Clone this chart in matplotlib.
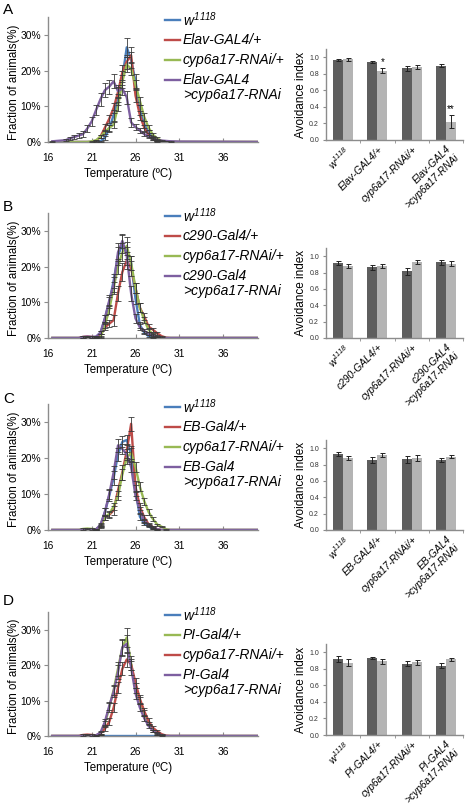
import numpy as np
import matplotlib
matplotlib.use("Agg")
import matplotlib.pyplot as plt
from matplotlib.ticker import PercentFormatter, FixedLocator
from matplotlib.lines import Line2D

plt.rcParams['font.family'] = ['Liberation Sans', 'DejaVu Sans']
plt.rcParams['mathtext.fontset'] = 'custom'
# all math text here is the italic genotype w1118, digits included
plt.rcParams['mathtext.rm'] = 'Liberation Sans:italic'
plt.rcParams['mathtext.it'] = 'Liberation Sans:italic'

# temperature grid (oC)
temps = [16.5, 18, 18.5, 19, 19.5, 20, 20.5, 21, 21.5, 22, 22.5, 23, 23.5, 24,
         24.5, 25, 25.5, 26, 26.5, 27, 27.5, 28, 28.5, 29, 29.5, 30, 31, 40]

# panel A, fraction of animals (%)
a_w = [0, 0, 0, 0, 0, 0, 0, 0, 0, 0.2, 1.2, 3.8, 7.5, 12, 18, 26.5, 23, 17, 9, 5, 2.7, 1.2, 0.4, 0.1, 0, 0, 0, 0]
a_w_err = [0, 0, 0, 0, 0, 0, 0, 0, 0, 0.2, 0.5, 1, 1.5, 1.5, 2, 2.7, 2.2, 2, 1.5, 1, 0.6, 0.4, 0.2, 0, 0, 0, 0, 0]
a_gal = [0, 0, 0, 0, 0, 0, 0, 0, 0.3, 1.5, 4, 6.5, 9.5, 14, 19.5, 22.5, 24.3, 13, 7.5, 4, 2, 0.8, 0.2, 0, 0, 0, 0, 0]
a_gal_err = [0, 0, 0, 0, 0, 0, 0, 0, 0.2, 0.5, 1, 1.2, 1.5, 1.5, 2, 2, 2.2, 1.8, 1.2, 0.8, 0.5, 0.3, 0.1, 0, 0, 0, 0, 0]
a_rnai = [0, 0, 0, 0, 0, 0, 0, 0.2, 0.5, 1.5, 2.8, 4, 4.8, 10, 17, 21.7, 20.5, 16, 11.5, 7, 4, 2, 1, 0.3, 0, 0, 0, 0]
a_rnai_err = [0, 0, 0, 0, 0, 0, 0, 0.1, 0.2, 0.4, 0.6, 0.8, 0.8, 1.2, 1.8, 2, 1.8, 1.5, 1.2, 1, 0.7, 0.5, 0.3, 0.1, 0, 0, 0, 0]
a_kd = [0.2, 0.5, 1.0, 1.4, 1.8, 2.2, 3.8, 5.8, 9, 12, 14.5, 15.5, 17, 14.2, 15, 12.5, 5.5, 4.2, 3.2, 2.2, 1.6, 1.0, 0.6, 0.4, 0.3, 0.2, 0.1, 0]
a_kd_err = [0.1, 0.3, 0.4, 0.5, 0.6, 0.8, 1, 1.2, 1.5, 1.8, 2, 2, 2, 1.8, 1.8, 1.8, 1.2, 0.8, 0.6, 0.5, 0.4, 0.3, 0.2, 0.2, 0.1, 0.1, 0, 0]

# panel B
b_w = [0, 0, 0, 0, 0, 0, 0, 0, 0.3, 1.5, 5.5, 10, 16, 23, 26.3, 24.5, 21, 11, 3.7, 1.5, 0.5, 0.2, 0, 0, 0, 0, 0, 0]
b_w_err = [0, 0, 0, 0, 0, 0, 0, 0, 0.2, 0.5, 1, 1.5, 2, 2.5, 2.5, 2.5, 2, 1.5, 0.8, 0.5, 0.3, 0.1, 0, 0, 0, 0, 0, 0]
b_gal = [0, 0, 0, 0, 0, 0.3, 0.4, 0.3, 0.2, 0.8, 3, 4, 5, 12.5, 18.5, 21.7, 19.5, 14, 8.5, 6, 3.2, 2.3, 1.3, 0.5, 0.1, 0, 0, 0]
b_gal_err = [0, 0, 0, 0, 0, 0.2, 0.2, 0.2, 0.1, 0.4, 0.8, 1, 1.5, 2, 2.5, 2.5, 2, 1.5, 1.2, 1, 0.8, 0.5, 0.4, 0.2, 0, 0, 0, 0]
b_rnai = [0, 0, 0, 0, 0, 0, 0, 0, 0, 0.3, 3.5, 8, 14, 20, 24, 25.8, 21, 14, 8.5, 5, 2.3, 1, 0.4, 0, 0, 0, 0, 0]
b_rnai_err = [0, 0, 0, 0, 0, 0, 0, 0, 0, 0.2, 0.8, 1.2, 1.8, 2, 2.5, 2.5, 2, 1.5, 1.2, 0.8, 0.5, 0.3, 0.2, 0, 0, 0, 0, 0]
b_kd = [0, 0, 0, 0, 0, 0.3, 0.4, 0.3, 0.4, 1.5, 5.5, 10.5, 15, 24, 27.2, 23, 12.5, 5.5, 3, 2, 1.2, 0.7, 0.3, 0, 0, 0, 0, 0]
b_kd_err = [0, 0, 0, 0, 0, 0.2, 0.2, 0.2, 0.2, 0.5, 1, 1.5, 2, 2.5, 2, 2.5, 2, 1.2, 0.8, 0.5, 0.4, 0.3, 0.1, 0, 0, 0, 0, 0]

# panel C
c_w = [0, 0, 0, 0, 0, 0, 0, 0, 0.2, 1.2, 5, 9.5, 14.5, 21, 24.5, 25, 21, 11, 3.7, 1.8, 1.0, 0.3, 0, 0, 0, 0, 0, 0]
c_w_err = [0, 0, 0, 0, 0, 0, 0, 0, 0.1, 0.4, 1, 1.5, 2, 1.8, 1.5, 1.5, 1.8, 1.5, 0.8, 0.5, 0.3, 0.1, 0, 0, 0, 0, 0, 0]
c_gal = [0, 0, 0, 0, 0, 0, 0, 0, 0.1, 0.8, 3.5, 4.2, 5.5, 11, 16, 22, 29.5, 12, 6.5, 3.5, 1.6, 0.8, 0.2, 0, 0, 0, 0, 0]
c_gal_err = [0, 0, 0, 0, 0, 0, 0, 0, 0.1, 0.3, 0.6, 0.8, 1.2, 1.5, 2, 2, 2, 1.5, 1, 0.6, 0.4, 0.3, 0.1, 0, 0, 0, 0, 0]
c_rnai = [0, 0, 0, 0, 0, 0.3, 0.4, 0.3, 0.2, 1, 3.5, 4.5, 6.5, 9.5, 15.5, 20, 21.5, 17.5, 12, 8, 5, 3, 1.5, 0.9, 0.2, 0, 0, 0]
c_rnai_err = [0, 0, 0, 0, 0, 0.2, 0.2, 0.2, 0.1, 0.3, 0.6, 0.8, 1, 1.2, 1.5, 1.8, 1.8, 1.5, 1.2, 1, 0.8, 0.5, 0.3, 0.2, 0.1, 0, 0, 0]
c_kd = [0, 0, 0, 0, 0, 0, 0, 0, 0.2, 1.5, 5, 10, 16, 23.5, 22.5, 21, 17.5, 9.5, 5.5, 2.5, 1.4, 0.7, 0.2, 0, 0, 0, 0, 0]
c_kd_err = [0, 0, 0, 0, 0, 0, 0, 0, 0.1, 0.5, 1, 1.5, 1.8, 1.8, 1.5, 1.5, 1.5, 1.2, 0.8, 0.5, 0.3, 0.2, 0.1, 0, 0, 0, 0, 0]

# panel D
d_w = [0] * len(temps)
d_w_err = [0] * len(temps)
d_gal = [0, 0, 0, 0, 0, 0, 0, 0, 0, 0.5, 3.5, 8, 13, 19, 25, 27.8, 20.5, 13.5, 10, 6.5, 3.5, 1.5, 0.5, 0, 0, 0, 0, 0]
d_gal_err = [0, 0, 0, 0, 0, 0, 0, 0, 0, 0.2, 0.8, 1.2, 1.5, 2, 2.5, 2.8, 2, 1.5, 1, 0.8, 0.5, 0.3, 0.1, 0, 0, 0, 0, 0]
d_rnai = [0, 0, 0, 0, 0, 0.3, 0.4, 0.3, 0.2, 0.7, 2, 4, 8, 13.7, 19, 21.6, 20.2, 15, 10.5, 7, 4.2, 2.3, 1.3, 0.5, 0.1, 0, 0, 0]
d_rnai_err = [0, 0, 0, 0, 0, 0.2, 0.2, 0.2, 0.1, 0.3, 0.6, 1, 1.2, 1.5, 1.8, 2, 1.5, 1.5, 1.2, 1, 0.8, 0.5, 0.3, 0.2, 0, 0, 0, 0]
d_kd = [0, 0, 0, 0, 0, 0, 0, 0, 0.2, 1, 4, 8.5, 12.5, 18, 25, 26, 19.3, 12, 8, 5, 2.8, 1.5, 0.6, 0.2, 0, 0, 0, 0]
d_kd_err = [0, 0, 0, 0, 0, 0, 0, 0, 0.1, 0.4, 0.8, 1.2, 1.5, 2, 2, 2.5, 2, 1.5, 1, 0.7, 0.5, 0.3, 0.2, 0.1, 0, 0, 0, 0]

# avoidance index bars (dark, light) for the four genotypes
a_dark = [0.97, 0.945, 0.87, 0.90]
a_dark_err = [0.015, 0.01, 0.03, 0.02]
a_light = [0.975, 0.84, 0.885, 0.22]
a_light_err = [0.015, 0.035, 0.025, 0.08]
b_dark = [0.915, 0.865, 0.815, 0.925]
b_dark_err = [0.025, 0.03, 0.045, 0.03]
b_light = [0.88, 0.88, 0.925, 0.91]
b_light_err = [0.03, 0.025, 0.025, 0.03]
c_dark = [0.925, 0.855, 0.865, 0.855]
c_dark_err = [0.025, 0.04, 0.04, 0.025]
c_light = [0.88, 0.915, 0.88, 0.895]
c_light_err = [0.03, 0.025, 0.035, 0.02]
d_dark = [0.92, 0.93, 0.86, 0.84]
d_dark_err = [0.035, 0.015, 0.03, 0.035]
d_light = [0.875, 0.89, 0.88, 0.915]
d_light_err = [0.045, 0.03, 0.03, 0.02]
a_stars = ["", "*", "", "**"]

W = r"$w^{1118}$"
BLUE, RED, GREEN, PURPLE = '#4a7ebb', '#be4b48', '#98b954', '#7d5fa0'

panels = [
    dict(letter='A', driver='Elav-GAL4',
         series=[(W, BLUE, a_w, a_w_err), ('Elav-GAL4/+', RED, a_gal, a_gal_err),
                 ('cyp6a17-RNAi/+', GREEN, a_rnai, a_rnai_err),
                 ('Elav-GAL4\n>cyp6a17-RNAi', PURPLE, a_kd, a_kd_err)],
         dark=a_dark, dark_err=a_dark_err, light=a_light, light_err=a_light_err,
         stars=a_stars, line_box=(17, 142), bar_box=(49, 140), letter_y=10),
    dict(letter='B', driver='c290-GAL4',
         series=[(W, BLUE, b_w, b_w_err), ('c290-Gal4/+', RED, b_gal, b_gal_err),
                 ('cyp6a17-RNAi/+', GREEN, b_rnai, b_rnai_err),
                 ('c290-Gal4\n>cyp6a17-RNAi', PURPLE, b_kd, b_kd_err)],
         dark=b_dark, dark_err=b_dark_err, light=b_light, light_err=b_light_err,
         stars=None, line_box=(213, 338), bar_box=(248, 338), letter_y=207),
    dict(letter='C', driver='EB-GAL4',
         series=[(W, BLUE, c_w, c_w_err), ('EB-Gal4/+', RED, c_gal, c_gal_err),
                 ('cyp6a17-RNAi/+', GREEN, c_rnai, c_rnai_err),
                 ('EB-Gal4\n>cyp6a17-RNAi', PURPLE, c_kd, c_kd_err)],
         dark=c_dark, dark_err=c_dark_err, light=c_light, light_err=c_light_err,
         stars=None, line_box=(404, 530), bar_box=(440, 530), letter_y=399),
    dict(letter='D', driver='PI-GAL4',
         series=[(W, BLUE, d_w, d_w_err), ('PI-Gal4/+', GREEN, d_gal, d_gal_err),
                 ('cyp6a17-RNAi/+', RED, d_rnai, d_rnai_err),
                 ('PI-Gal4\n>cyp6a17-RNAi', PURPLE, d_kd, d_kd_err)],
         dark=d_dark, dark_err=d_dark_err, light=d_light, light_err=d_light_err,
         stars=None, line_box=(612, 736), bar_box=(644, 735), letter_y=601),
]

FW, FH = 468, 811
fig = plt.figure(figsize=(FW / 100, FH / 100), dpi=100)
AXC = '#8c8c8c'


def box(x0, x1, y0, y1):
    return [x0 / FW, 1 - y1 / FH, (x1 - x0) / FW, (y1 - y0) / FH]


for p in panels:
    top, bot = p['line_box']
    ax = fig.add_axes(box(48, 258, top, bot))
    for i, (lab, col, vals, errs) in enumerate(p['series']):
        ax.plot(temps, vals, color=col, lw=1.7, zorder=2 + i * 0.1)
    for lab, col, vals, errs in p['series']:
        idx = [k for k in range(len(temps)) if errs[k] > 0]
        ax.errorbar([temps[k] for k in idx], [vals[k] for k in idx],
                    yerr=[errs[k] for k in idx], fmt='none', ecolor='#3a3a3a',
                    elinewidth=0.6, capsize=2, capthick=0.6, zorder=3)
    ax.set_xlim(16, 40)
    ax.set_ylim(0, 35)
    ax.set_xticks([16, 21, 26, 31, 36])
    ax.set_yticks([0, 10, 20, 30])
    ax.yaxis.set_major_formatter(PercentFormatter(xmax=100, decimals=0))
    for s in ['top', 'right']:
        ax.spines[s].set_visible(False)
    for s in ['left', 'bottom']:
        ax.spines[s].set_color(AXC)
        ax.spines[s].set_linewidth(1.0)
    ax.tick_params(axis='x', direction='in', length=3, color=AXC, labelsize=7.4, pad=8)
    ax.tick_params(axis='y', direction='out', length=3, color=AXC, labelsize=7.4, pad=2)
    ax.set_xlabel("Temperature (\u00baC)", fontsize=8.3)
    ax.xaxis.set_label_coords(0.383, -0.21)
    ax.set_ylabel("Fraction of animals(%)", fontsize=8.3)
    ax.yaxis.set_label_coords(-0.135, 0.48)

    # legend, drawn at the right of the curves
    h = bot - top
    rows = [3, 23, 43, 63]
    for (lab, col, vals, errs), r in zip(p['series'], rows):
        yy = 1 - r / h
        ax.add_line(Line2D([117 / 210, 132 / 210], [yy, yy], transform=ax.transAxes,
                           color=col, lw=1.7, clip_on=False))
        for j, ln in enumerate(lab.split('\n')):
            ax.text(135 / 210, 1 - (r + 15 * j) / h, ln, transform=ax.transAxes,
                    fontsize=10, style='italic', va='center', ha='left')

    fig.text(3 / FW, 1 - p['letter_y'] / FH, p['letter'], fontsize=11, va='center', ha='left')

    # avoidance index bars
    top, bot = p['bar_box']
    bx = fig.add_axes(box(326, 463, top, bot))
    x = np.arange(4)
    w = 0.29
    ekw = dict(ecolor='#222222', elinewidth=0.7, capsize=1.8, capthick=0.7)
    bx.bar(x - w / 2, p['dark'], w, yerr=p['dark_err'], color='#5e5e5e', error_kw=ekw)
    bx.bar(x + w / 2, p['light'], w, yerr=p['light_err'], color='#b4b4b4', error_kw=ekw)
    if p['stars']:
        for k, st in enumerate(p['stars']):
            if st:
                bx.text(x[k] + w / 2, p['light'][k] + p['light_err'][k] + 0.01, st,
                        ha='center', va='bottom', fontsize=7)
    bx.set_xlim(-0.5, 3.5)
    bx.set_ylim(0, 1.1)
    bx.set_yticks([0, 0.2, 0.4, 0.6, 0.8, 1.0])
    bx.set_yticklabels(['0.0', '0.2', '0.4', '0.6', '0.8', '1.0'])
    drv = p['driver']
    bx.set_xticks(x)
    bx.set_xticklabels([W, drv + '/+', 'cyp6a17-RNAi/+', drv + '\n>cyp6a17-RNAi'],
                       rotation=45, ha='right', rotation_mode='anchor',
                       fontsize=7.3, style='italic', multialignment='right')
    bx.xaxis.set_minor_locator(FixedLocator([0.5, 1.5, 2.5, 3.5]))
    bx.tick_params(axis='x', which='major', length=0, pad=3)
    bx.tick_params(axis='x', which='minor', length=2, color=AXC, direction='out')
    bx.tick_params(axis='y', length=2, color=AXC, labelsize=5, pad=3, labelcolor='#333333')
    for s in ['top', 'right']:
        bx.spines[s].set_visible(False)
    for s in ['left', 'bottom']:
        bx.spines[s].set_color(AXC)
        bx.spines[s].set_linewidth(1.0)
    bx.set_ylabel("Avoidance index", fontsize=8.5)
    bx.yaxis.set_label_coords(-0.14, 0.5)

fig.savefig("out.png", dpi=100)
